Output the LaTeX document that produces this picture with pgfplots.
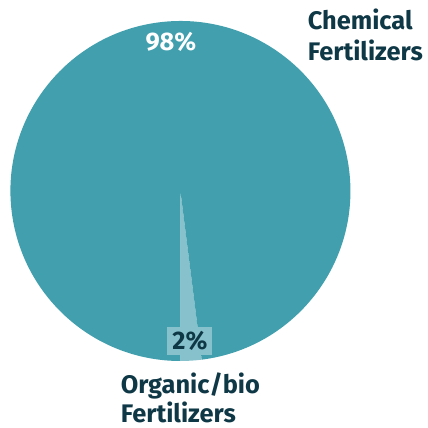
\documentclass[border=0pt]{standalone}
\usepackage{pgfplots}
\pgfplotsset{compat=1.18}
\usepackage{pgfplotstable}
\usepackage{fontspec}
\setmainfont{Fira Sans}
\definecolor{mainteal}{HTML}{419FAE}
\definecolor{lightteal}{HTML}{86C1CC}
\definecolor{darknavy}{HTML}{0F3846}

\pgfplotstableread{
label value
Organic 2
Chemical 98
}\piedata

\begin{document}
\begin{tikzpicture}
\pgfplotstablegetelem{0}{value}\of\piedata
\pgfmathsetmacro\angA{-90+3.6*\pgfplotsretval}
\begin{axis}[
  x=170bp, y=170bp,
  xmin=-1.0412, xmax=1.4529, ymin=-1.3941, ymax=1.1235,
  hide axis, clip=false,
  ]
 \fill[lightteal] (axis cs:0,0) -- (axis cs:0,-1) arc[start angle=-90, end angle=\angA, radius=170bp] -- cycle;
 \fill[mainteal] (axis cs:0,0) -- (axis cs:{cos(\angA)},{sin(\angA)}) arc[start angle=\angA, end angle=270, radius=170bp] -- cycle;
 \node[text=white, font=\bfseries\fontsize{25.5}{28}\selectfont, inner sep=0pt] at (axis cs:-0.056,0.876) {98\%};
 \node[fill=lightteal, text=darknavy, font=\bfseries\fontsize{25.5}{28}\selectfont, minimum width=45bp, minimum height=28bp, inner sep=0pt] at (axis cs:0.056,-0.882) {2\%};
 \node[anchor=base west, align=left, text=darknavy, font=\bfseries\fontsize{25.5}{32}\selectfont, inner sep=0pt] at (axis cs:0.748,0.765) {Chemical\\Fertilizers};
 \node[anchor=base west, align=left, text=darknavy, font=\bfseries\fontsize{25.5}{29.5}\selectfont, inner sep=0pt] at (axis cs:-0.352,-1.362) {Organic/bio\\Fertilizers};
 \path (axis cs:-1.0412,-1.3941) rectangle (axis cs:1.4529,1.1235);
\end{axis}
\end{tikzpicture}
\end{document}
